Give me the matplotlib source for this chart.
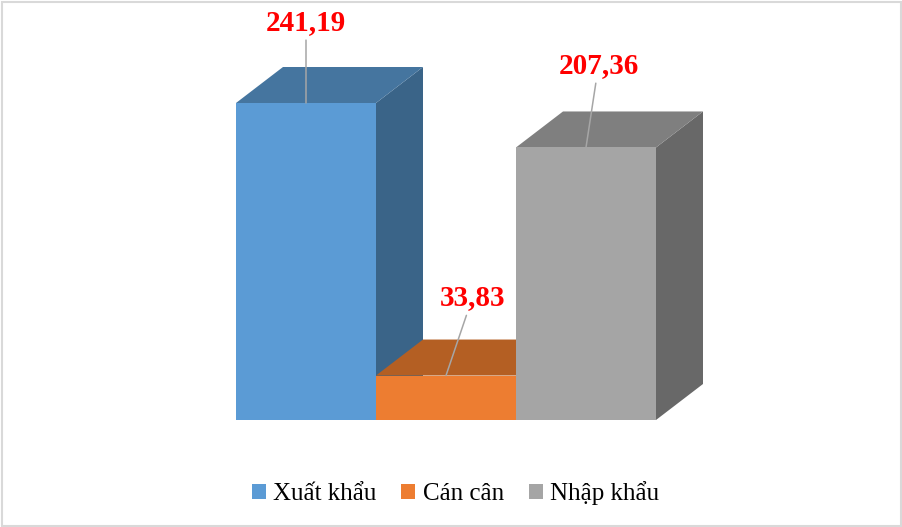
import matplotlib
matplotlib.use("Agg")
import matplotlib.pyplot as plt
from matplotlib.patches import Polygon, Rectangle, Patch

categories = ["Xuất khẩu", "Cán cân", "Nhập khẩu"]
values = [241.19, 33.83, 207.36]
labels = ["241,19", "33,83", "207,36"]

front_colors = ["#5B9BD5", "#ED7D31", "#A5A5A5"]
top_colors = ["#45759F", "#B45F23", "#7F7F7F"]
side_colors = ["#3A6488", "#9E5320", "#686868"]
label_offsets = [(0, 58), (19, 56), (9, 59)]  # points

plt.rcParams['font.family'] = ['Liberation Serif', 'DejaVu Serif']

W, H = 902, 527
fig = plt.figure(figsize=(W / 100, H / 100), dpi=100)
ax = fig.add_axes([0, 0, 1, 1])
ax.set_axis_off()

px_per_cat = 140.0
x0_px = 306.0
base_px = 107.0  # from bottom
px_per_val = 317.0 / 241.19
ax.set_xlim(-x0_px / px_per_cat, (W - x0_px) / px_per_cat)
ax.set_ylim(-base_px / px_per_val, (H - base_px) / px_per_val)

ddx = 47.0 / px_per_cat
ddy = 36.0 / px_per_val
hw = 0.5

for i, v in enumerate(values):
    side = Polygon([(i + hw, 0), (i + hw + ddx, ddy), (i + hw + ddx, v + ddy), (i + hw, v)],
                   closed=True, facecolor=side_colors[i], edgecolor='none')
    top = Polygon([(i - hw, v), (i + hw, v), (i + hw + ddx, v + ddy), (i - hw + ddx, v + ddy)],
                  closed=True, facecolor=top_colors[i], edgecolor='none')
    front = Rectangle((i - hw, 0), 2 * hw, v, facecolor=front_colors[i], edgecolor='none')
    ax.add_patch(side)
    ax.add_patch(top)
    ax.add_patch(front)

for i, v in enumerate(values):
    ax.annotate(labels[i], xy=(i, v), xytext=label_offsets[i], textcoords='offset points',
                ha='center', va='center', fontsize=21, fontweight='bold', color='#FF0000',
                arrowprops=dict(arrowstyle='-', color='#A6A6A6', lw=1.1, shrinkA=1, shrinkB=0))

handles = [Patch(facecolor=c, edgecolor='none') for c in front_colors]
fig.legend(handles, categories, loc='center', bbox_to_anchor=(455.5 / W, 34 / H),
           ncol=3, frameon=False, fontsize=18, handlelength=0.55, handleheight=0.55,
           handletextpad=0.3, columnspacing=1.0)

fig.patches.append(Rectangle((1.5 / W, 1.5 / H), 1 - 3 / W, 1 - 3 / H, transform=fig.transFigure,
                             fill=False, edgecolor='#D9D9D9', linewidth=1.5))

fig.savefig("out.png", dpi=100)
